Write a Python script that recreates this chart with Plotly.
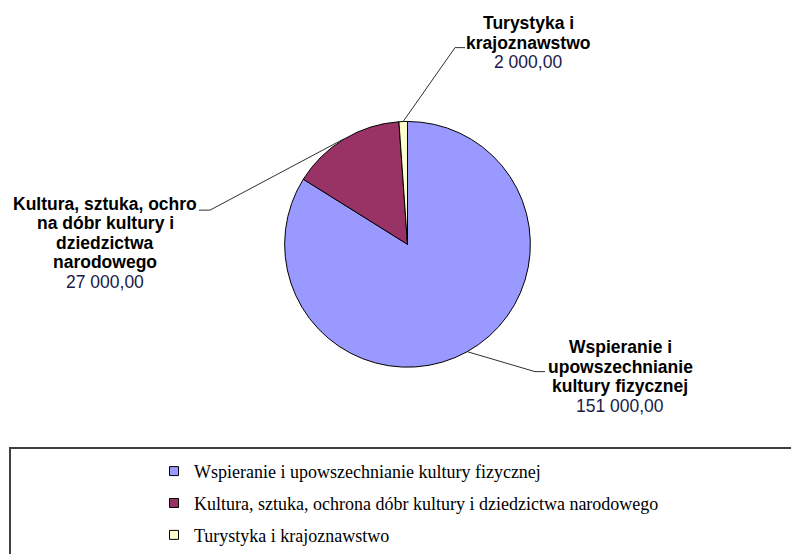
import math
import plotly.graph_objects as go

# ---- data ----
categories = [
    "Wspieranie i upowszechnianie kultury fizycznej",
    "Kultura, sztuka, ochrona dóbr kultury i dziedzictwa narodowego",
    "Turystyka i krajoznawstwo",
]
label_lines = [
    ["Wspieranie i", "upowszechnianie", "kultury fizycznej"],
    ["Kultura, sztuka, ochro", "na dóbr kultury i", "dziedzictwa", "narodowego"],
    ["Turystyka i", "krajoznawstwo"],
]
values = [151000, 27000, 2000]
colors = ["#9999FF", "#993366", "#FFFFCC"]

OFFX, OFFY = 8, 8  # page body margin
W, H = 799 - OFFX, 554 - OFFY  # figure fits inside the window, no scrollbars
# pie geometry (screen pixels)
CX, CY, R = 407.5, 246.5, 124.0

def px(x):
    return (x - OFFX) / W

def py(y):
    return 1 - (y - OFFY) / H

def fmt(v):
    return f"{v:,.2f}".replace(",", " ").replace(".", ",")

fig = go.Figure()
fig.add_trace(go.Pie(
    labels=categories,
    values=values,
    sort=False,
    direction="clockwise",
    rotation=0,
    marker=dict(colors=colors, line=dict(color="#000000", width=1)),
    textinfo="none",
    hoverinfo="label+value",
    showlegend=False,
    domain=dict(x=[px(CX - R), px(CX + R)], y=[py(CY + R), py(CY - R)]),
))

# legend entries
for cat, col in zip(categories, colors):
    fig.add_trace(go.Scatter(
        x=[None], y=[None], mode="markers", name=cat, legendgroup=cat,
        marker=dict(symbol="square", size=9, color=col, line=dict(color="#000000", width=1)),
        showlegend=True,
    ))

# data labels + leader lines
label_pos = [(620, 380), (105, 245), (528, 43)]
line_gap = 19.75
elbows = [((535, 375), (545, 375)), ((210, 212), (199, 212)), ((455, 48), (465, 48))]
total = sum(values)
cum = 0
shapes = []
annotations = []
for i, v in enumerate(values):
    mid = (cum + v / 2) / total * 2 * math.pi
    cum += v
    sx = CX + R * math.sin(mid)
    sy = CY - R * math.cos(mid)
    (ex, ey), (hx, hy) = elbows[i]
    path = f"M {px(sx)},{py(sy)} L {px(ex)},{py(ey)} L {px(hx)},{py(hy)}"
    shapes.append(dict(type="path", xref="paper", yref="paper", path=path,
                       line=dict(color="#303030", width=1)))
    lines = [f"<b>{l}</b>" for l in label_lines[i]] + [fmt(v)]
    lx, ly = label_pos[i]
    n = len(lines)
    for j, t in enumerate(lines):
        yy = ly + (j - (n - 1) / 2) * line_gap
        annotations.append(dict(x=px(lx), y=py(yy), xref="paper", yref="paper",
                                xanchor="center", yanchor="middle", showarrow=False,
                                text=t,
                                font=dict(family="Liberation Sans, Arial", size=17.5,
                                          color="#1a1a4a" if j == n - 1 else "#000000")))

# legend frame (top and left edges; the rest lies outside the picture)
frame = f"M {px(830)},{py(452)} L {px(10)},{py(452)} L {px(10)},{py(580)}"
shapes.append(dict(type="path", xref="paper", yref="paper", path=frame,
                   line=dict(color="#404040", width=2)))

fig.update_layout(
    width=W, height=H,
    margin=dict(l=0, r=0, t=0, b=0),
    paper_bgcolor="white", plot_bgcolor="white",
    xaxis=dict(visible=False), yaxis=dict(visible=False),
    shapes=shapes, annotations=annotations,
    showlegend=True,
    legend=dict(x=px(154), y=py(457), xanchor="left", yanchor="top",
                tracegroupgap=5.5, bgcolor="rgba(0,0,0,0)",
                font=dict(family="Liberation Serif, Times New Roman", size=18, color="#000000")),
)

fig.write_html("out.html")
